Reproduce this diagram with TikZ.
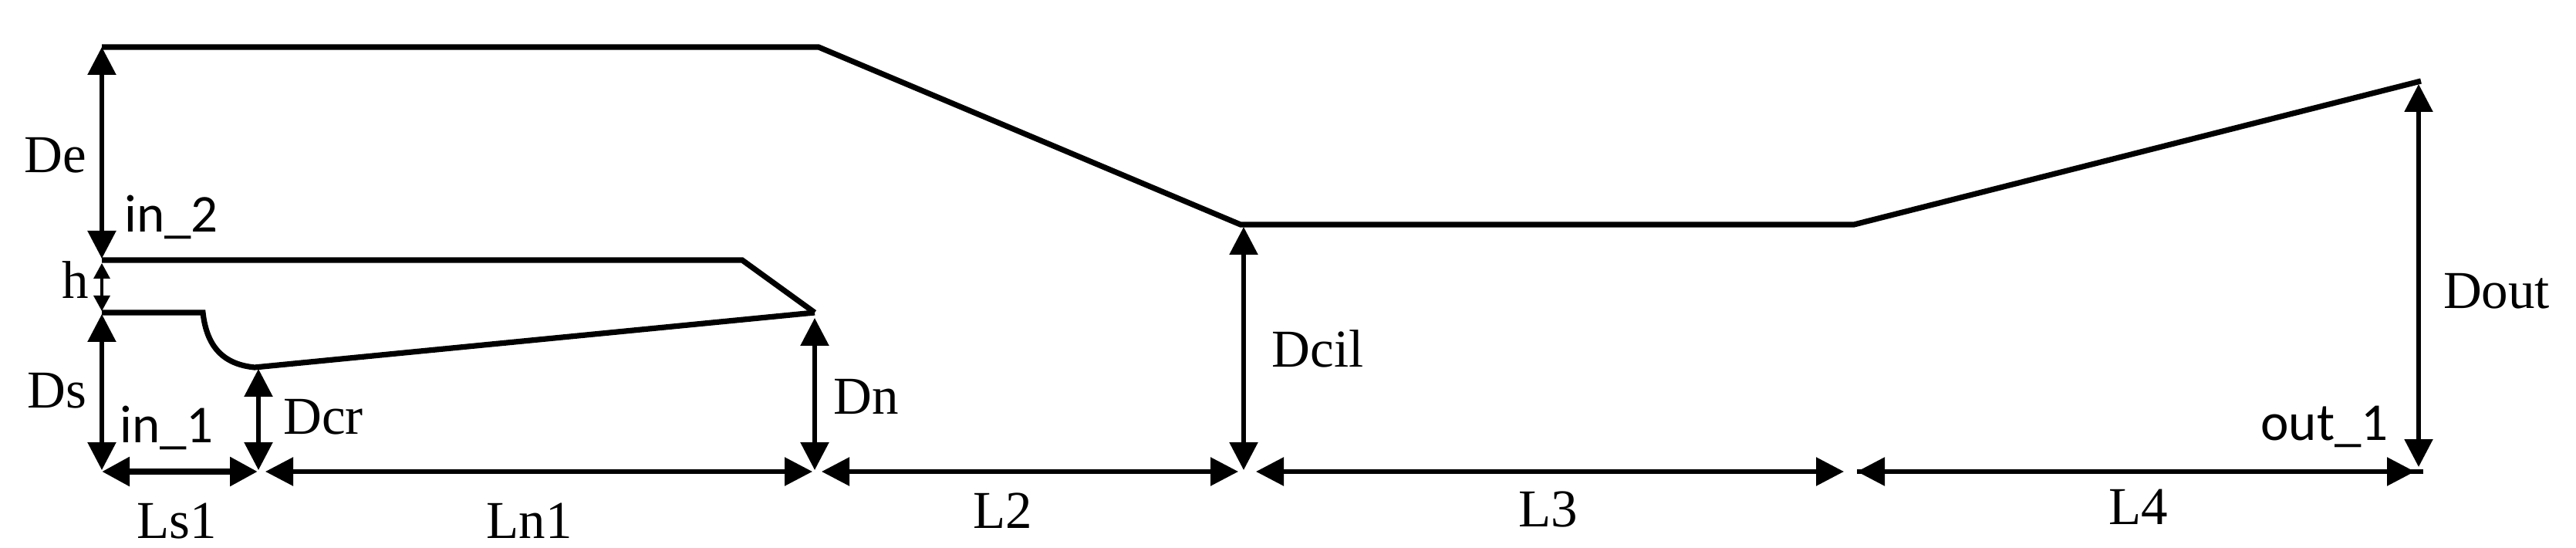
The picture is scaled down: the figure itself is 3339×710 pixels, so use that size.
\documentclass[tikz,border=0pt]{standalone}
\usepackage{fontspec}
\setmainfont{Liberation Serif}
\newfontfamily\calfont{Carlito}
\usetikzlibrary{arrows.meta}
\tikzset{
  wall/.style={line width=3.6pt,line join=miter},
  dim/.style={line width=2.8pt,{Triangle[length=18pt,width=18pt,inset=0pt]}-{Triangle[length=18pt,width=18pt,inset=0pt]}},
  smalldim/.style={line width=1.6pt,{Triangle[length=10pt,width=10.5pt,inset=0pt]}-{Triangle[length=10pt,width=10.5pt,inset=0pt]}},
  lab/.style={anchor=base,inner sep=0pt,font=\fontsize{34.5}{34.5}\selectfont},
  port/.style={anchor=base,inner sep=0pt,font=\calfont\fontsize{34.5}{34.5}\selectfont}
}
\begin{document}
\begin{tikzpicture}[x=.5pt,y=-.5pt]
\useasboundingbox (0,0) rectangle (3339,710);
% outline points
\coordinate (t0) at (132,61);
\coordinate (t1) at (1061,61);
\coordinate (t2) at (1608,291);
\coordinate (t3) at (2403,291);
\coordinate (t4) at (3138,105);
\coordinate (m0) at (132,337);
\coordinate (m1) at (962,337);
\coordinate (m2) at (1056,405);
\coordinate (s0) at (132,405);
\coordinate (s1) at (263,405);
\coordinate (s2) at (330,476);
% dimension end points
\coordinate (a1) at (132,335);
\coordinate (a2) at (132,341);
\coordinate (a3) at (132,403);
\coordinate (a4) at (132,407);
\coordinate (a5) at (132,609);
\coordinate (b1) at (335,478);
\coordinate (b2) at (335,609);
\coordinate (c1) at (1056,412);
\coordinate (c2) at (1056,609);
\coordinate (d1) at (1612,294);
\coordinate (d2) at (1612,609);
\coordinate (e1) at (3135,109);
\coordinate (e2) at (3135,605);
\coordinate (h0) at (132,611);
\coordinate (h1) at (334,611);
\coordinate (h2) at (344,611);
\coordinate (h3) at (1053,611);
\coordinate (h4) at (1065,611);
\coordinate (h5) at (1605,611);
\coordinate (h6) at (1628,611);
\coordinate (h7) at (2390,611);
\coordinate (h8) at (2407,611);
\coordinate (h9) at (3130,611);
\coordinate (h10) at (3141,611);
% walls
\draw[wall] (t0) -- (t1) -- (t2) -- (t3) -- (t4);
\draw[wall] (m0) -- (m1) -- (m2);
\draw[wall] (s0) -- (s1) .. controls (268,450) and (290,472) .. (s2) -- (m2);
% vertical dimensions
\draw[dim] (t0) -- (a1);
\draw[smalldim] (a2) -- (a3);
\draw[dim] (a4) -- (a5);
\draw[dim] (b1) -- (b2);
\draw[dim] (c1) -- (c2);
\draw[dim] (d1) -- (d2);
\draw[dim] (e1) -- (e2);
% horizontal dimensions
\draw[dim,line width=4.4pt] (h0) -- (h1);
\draw[dim] (h2) -- (h3);
\draw[dim] (h4) -- (h5);
\draw[dim] (h6) -- (h7);
\draw[line width=2.8pt] (h8) -- (h10);
\draw[dim] (h8) -- (h9);
% labels
\node[lab] (De) at (72,224) {De};
\node[lab] (hh) at (98,387) {h};
\node[lab] (Ds) at (74,529) {Ds};
\node[lab] (Dcr) at (419,562) {Dcr};
\node[lab] (Ls) at (229,697) {Ls1};
\node[lab] (Ln) at (686,697) {Ln1};
\node[lab] (Dn) at (1123,537) {Dn};
\node[lab] (Ltwo) at (1300,684) {L2};
\node[lab] (Dcil) at (1708,476) {Dcil};
\node[lab] (Lthree) at (2007,682) {L3};
\node[lab] (Lfour) at (2772,679) {L4};
\node[lab] (Dout) at (3236,400) {Dout};
\node[port] (intwo) at (222,301) {in\_2};
\node[port] (inone) at (216,574) {in\_1};
\node[port] (outone) at (3013,570) {out\_1};
\end{tikzpicture}
\end{document}
